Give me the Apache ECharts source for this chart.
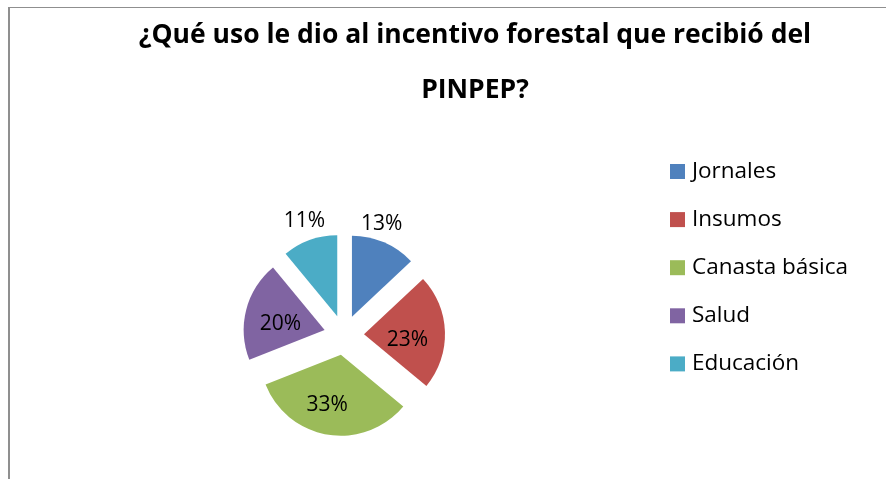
<!DOCTYPE html>
<html>
<head>
<meta charset="utf-8">
<script src="https://cdn.jsdelivr.net/npm/echarts@6/dist/echarts.min.js"></script>
<style>
html, body { margin: 0; padding: 0; background: #fff; }
.frame {
  position: absolute; left: 8px; top: 7px; width: 886px; height: 480px;
  border-left: 2px solid #8f8f8f; border-top: 1px solid #8f8f8f;
}
#chart { position: absolute; left: 0; top: 0; width: 886px; height: 479px; }
</style>
</head>
<body>
<div class="frame"></div>
<div id="chart"></div>
<script>
const categories = ['Jornales', 'Insumos', 'Canasta básica', 'Salud', 'Educación'];
const values = [13, 23, 33, 20, 11];
const colors = ['#4f81bd', '#c0504d', '#9bbb59', '#8064a2', '#4bacc6'];
// Excel puts the two small slices' labels outside
const outside = [true, false, false, false, true];
// small nudges so the labels sit where Excel puts them
const labelShift = [-36, [14, 0, 0, 0], [14, 14, 0, 0], [10, 4, 0, 0], -27];

const font = '"Open Sans", "Liberation Sans", sans-serif';

const chart = echarts.init(document.getElementById('chart'));
chart.setOption({
  animation: false,
  title: {
    text: '¿Qué uso le dio al incentivo forestal que recibió del\n\nPINPEP?',
    left: 470,
    top: 17,
    textAlign: 'center',
    textStyle: {
      fontFamily: font,
      fontWeight: 'bold',
      fontSize: 26.5,
      lineHeight: 27.5,
      color: '#000',
    },
  },
  legend: {
    orient: 'vertical',
    left: 665,
    top: 155,
    itemWidth: 15,
    itemHeight: 15,
    itemGap: 25.1,
    icon: 'rect',
    selectedMode: false,
    textStyle: { fontFamily: font, fontSize: 22.5, lineHeight: 20, color: '#000', padding: [0, 0, 0, 2] },
    data: categories,
  },
  series: [{
    type: 'pie',
    center: [344, 335],
    radius: 81,
    startAngle: 90,
    clockwise: true,
    selectedMode: 'multiple',
    selectedOffset: 20,
    avoidLabelOverlap: false,
    label: {
      position: 'inside',
      formatter: '{d}%',
      fontFamily: font,
      fontSize: 21,
      color: '#000',
    },
    labelLine: { show: false, length: 20 },
    emphasis: { disabled: true },
    data: categories.map((name, i) => ({
      name,
      value: values[i],
      selected: true,
      itemStyle: { color: colors[i] },
      label: outside[i]
        ? { position: 'outside' }
        : {
          formatter: '{p|{d}%}',
          rich: { p: { fontFamily: font, fontSize: 21, color: '#000', padding: labelShift[i] } },
        },
      labelLine: outside[i] ? { show: false, length2: labelShift[i] } : {},
    })),
  }],
});
</script>
</body>
</html>
